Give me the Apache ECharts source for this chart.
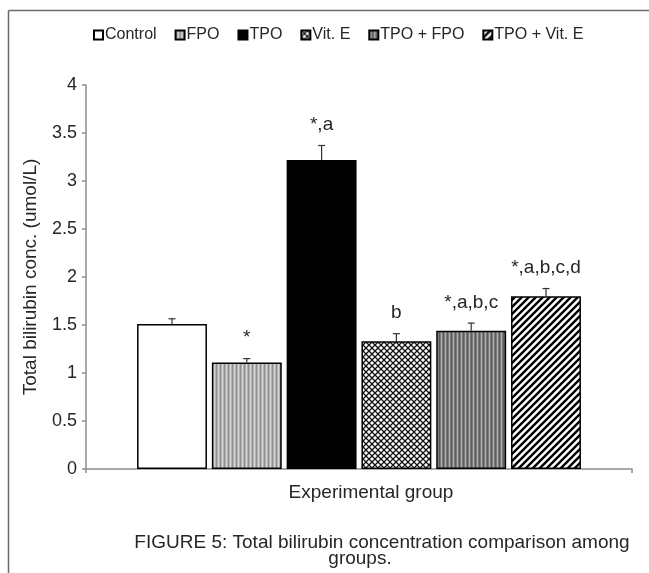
<!DOCTYPE html>
<html>
<head>
<meta charset="utf-8">
<script src="https://cdn.jsdelivr.net/npm/echarts@6/dist/echarts.min.js"></script>
<style>
  html, body { margin: 0; padding: 0; background: #fff; }
  #chart { width: 649px; height: 573px; }
</style>
</head>
<body>
<div id="chart"></div>
<script>
// data
var groups = ['Control', 'FPO', 'TPO', 'Vit. E', 'TPO + FPO', 'TPO + Vit. E'];
var means = [1.51, 1.11, 3.22, 1.33, 1.44, 1.80];
var errors = [0.055, 0.04, 0.15, 0.08, 0.08, 0.08];
var sigLabels = ['', '*', '*,a', 'b', '*,a,b,c', '*,a,b,c,d'];
var yTicks = [0, 0.5, 1, 1.5, 2, 2.5, 3, 3.5, 4];

var CAT_GAP = 0.187, BAR_GAP = 0.07;
var FONT = '"Liberation Sans", Arial, sans-serif';
var TXT = '#262626';

// fill patterns (Excel style)
function makePattern(w, h, draw) {
  var c = document.createElement('canvas');
  c.width = w; c.height = h;
  var ctx = c.getContext('2d');
  draw(ctx, w, h);
  return { image: c, repeat: 'repeat' };
}
var fills = [
  '#ffffff',
  makePattern(4, 4, function (ctx, w, h) {
    ctx.fillStyle = '#b4b4b4'; ctx.fillRect(0, 0, w, h);
    ctx.fillStyle = '#8e8e8e'; ctx.fillRect(0, 0, 1, h);
    ctx.fillStyle = '#d6d6d6'; ctx.fillRect(2, 0, 1, h);
  }),
  '#000000',
  makePattern(6, 6, function (ctx, w, h) {
    ctx.fillStyle = '#ffffff'; ctx.fillRect(0, 0, w, h);
    ctx.strokeStyle = '#111'; ctx.lineWidth = 1.3;
    ctx.beginPath();
    ctx.moveTo(-1, -1); ctx.lineTo(w + 1, h + 1);
    ctx.moveTo(-1, h + 1); ctx.lineTo(w + 1, -1);
    ctx.stroke();
  }),
  makePattern(4, 4, function (ctx, w, h) {
    ctx.fillStyle = '#7a7a7a'; ctx.fillRect(0, 0, w, h);
    ctx.fillStyle = '#b0b0b0'; ctx.fillRect(1, 0, 1, h);
    ctx.fillStyle = '#5e5e5e'; ctx.fillRect(3, 0, 1, h);
  }),
  makePattern(7, 7, function (ctx, w, h) {
    ctx.fillStyle = '#ffffff'; ctx.fillRect(0, 0, w, h);
    ctx.strokeStyle = '#000'; ctx.lineWidth = 2.4;
    ctx.beginPath();
    ctx.moveTo(-1, h + 1); ctx.lineTo(w + 1, -1);
    ctx.moveTo(-1, 1); ctx.lineTo(1, -1);
    ctx.moveTo(w - 1, h + 1); ctx.lineTo(w + 1, h - 1);
    ctx.stroke();
  })
];

var series = groups.map(function (g, i) {
  return {
    name: g,
    type: 'bar',
    data: [means[i]],
    barGap: (BAR_GAP * 100) + '%',
    barCategoryGap: (CAT_GAP * 100) + '%',
    itemStyle: { color: fills[i], borderColor: '#000', borderWidth: 1.5 },
    emphasis: { disabled: true },
    silent: true
  };
});

// error bars and significance letters
series.push({
  type: 'custom',
  name: 'err',
  z: 10,
  silent: true,
  data: groups.map(function (g, i) { return [0, means[i], errors[i], i]; }),
  encode: { x: 0, y: 1 },
  renderItem: function (params, api) {
    var idx = api.value(3);
    var band = api.size([1, 0])[0];
    var bw = band * (1 - CAT_GAP) / (groups.length + (groups.length - 1) * BAR_GAP);
    var step = bw * (1 + BAR_GAP);
    var cx = api.coord([0, 0])[0] + (idx - (groups.length - 1) / 2) * step;
    var yTop = api.coord([0, api.value(1)])[1];
    var yCap = api.coord([0, api.value(1) + api.value(2)])[1];
    return {
      type: 'group',
      children: [
        { type: 'line', shape: { x1: cx, y1: yTop, x2: cx, y2: yCap }, style: { stroke: '#333', lineWidth: 1.2 } },
        { type: 'line', shape: { x1: cx - 3.5, y1: yCap, x2: cx + 3.5, y2: yCap }, style: { stroke: '#333', lineWidth: 1.2 } },
        { type: 'text', x: cx, y: yCap - 11, style: {
            text: sigLabels[idx], fill: TXT, font: '19px ' + FONT, align: 'center', verticalAlign: 'bottom' } }
      ]
    };
  }
});

var chart = echarts.init(document.getElementById('chart'));
chart.setOption({
  animation: false,
  backgroundColor: '#fff',
  legend: {
    data: groups,
    left: 88,
    top: 22,
    itemWidth: 9,
    itemHeight: 9,
    itemGap: 18,
    icon: 'rect',
    textStyle: { fontFamily: FONT, fontSize: 16, color: TXT, padding: [0, 0, 0, -3] }
  },
  grid: { left: 86, right: 17, top: 85, bottom: 104 },
  xAxis: {
    type: 'category',
    data: ['Experimental group'],
    name: 'Experimental group',
    nameLocation: 'middle',
    nameGap: 14,
    nameTextStyle: { fontFamily: FONT, fontSize: 19, color: TXT, padding: [0, 0, 0, 24] },
    axisLabel: { show: false },
    axisLine: { lineStyle: { color: '#8c8c8c', width: 1.5 } },
    axisTick: { show: true, length: 4, lineStyle: { color: '#8c8c8c', width: 1.5 } },
    splitLine: { show: false }
  },
  yAxis: {
    type: 'value',
    min: yTicks[0],
    max: yTicks[yTicks.length - 1],
    interval: yTicks[1] - yTicks[0],
    name: 'Total bilirubin conc. (umol/L)',
    nameLocation: 'middle',
    nameGap: 46,
    nameTextStyle: { fontFamily: FONT, fontSize: 19, color: TXT },
    axisLine: { show: true, lineStyle: { color: '#8c8c8c', width: 1.5 } },
    axisTick: { show: true, length: 4, lineStyle: { color: '#8c8c8c', width: 1.5 } },
    axisLabel: { fontFamily: FONT, fontSize: 18, color: TXT, margin: 9 },
    splitLine: { show: false }
  },
  graphic: [
    { type: 'line', shape: { x1: 8.5, y1: 10.5, x2: 649, y2: 10.5 }, style: { stroke: '#6b6b6b', lineWidth: 1.5 } },
    { type: 'line', shape: { x1: 8.5, y1: 10.5, x2: 8.5, y2: 573 }, style: { stroke: '#6b6b6b', lineWidth: 1.5 } },
    { type: 'text', x: 382, y: 543, style: { text: 'FIGURE 5: Total bilirubin concentration comparison among',
        font: '19px ' + FONT, fill: TXT, align: 'center', verticalAlign: 'middle' } },
    { type: 'text', x: 360, y: 559, style: { text: 'groups.',
        font: '19px ' + FONT, fill: TXT, align: 'center', verticalAlign: 'middle' } }
  ],
  series: series
});
</script>
</body>
</html>
